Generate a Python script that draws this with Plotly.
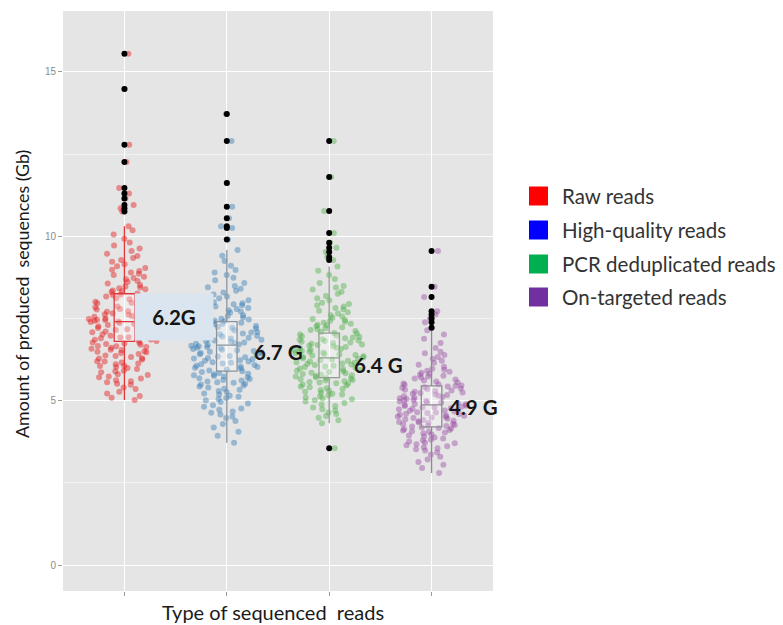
import plotly.graph_objects as go

# ---------------- data ----------------
categories = ["Raw reads", "High-quality reads", "PCR deduplicated reads", "On-targeted reads"]

raw_vals = [5.02, 5.09, 5.14, 5.22, 5.27, 5.35, 5.40, 5.48,
            5.51, 5.56, 5.59, 5.62, 5.67, 5.71, 5.73, 5.78, 5.80, 5.86, 5.89, 5.91, 5.96, 5.99,
            6.02, 6.05, 6.06, 6.11, 6.13, 6.16, 6.19, 6.20, 6.25, 6.28, 6.29, 6.33, 6.36, 6.37, 6.42, 6.45, 6.47, 6.49,
            6.50, 6.54, 6.55, 6.58, 6.61, 6.63, 6.65, 6.66, 6.70, 6.72, 6.74, 6.76, 6.77, 6.81, 6.83, 6.85, 6.86, 6.90, 6.92, 6.93, 6.97, 6.99,
            7.02, 7.03, 7.06, 7.08, 7.10, 7.11, 7.15, 7.17, 7.19, 7.21, 7.23, 7.26, 7.28, 7.30, 7.32, 7.34, 7.36, 7.39, 7.41, 7.43, 7.45, 7.46, 7.48, 7.50,
            7.52, 7.55, 7.57, 7.59, 7.61, 7.63, 7.66, 7.68, 7.70, 7.72, 7.75, 7.77, 7.79, 7.82, 7.84, 7.86, 7.89, 7.91, 7.93, 7.96, 7.98,
            8.01, 8.04, 8.08, 8.11, 8.14, 8.17, 8.21, 8.23, 8.26, 8.30, 8.33, 8.35, 8.39, 8.42, 8.44, 8.47,
            8.52, 8.56, 8.61, 8.64, 8.69, 8.73, 8.77, 8.82, 8.86, 8.90, 8.94, 8.98,
            9.03, 9.09, 9.15, 9.22, 9.28, 9.34, 9.40, 9.47,
            9.55, 9.63, 9.72, 9.81, 9.92, 10.05, 10.18, 10.30]
raw_outliers = [10.75, 10.85, 10.95, 11.15, 11.30, 11.47, 12.26, 12.78, 14.48, 15.55]

hq_vals = [3.72, 3.93,
           4.05, 4.18, 4.29, 4.38, 4.47,
           4.52, 4.58, 4.63, 4.67, 4.72, 4.76, 4.81, 4.86, 4.91, 4.96,
           5.01, 5.05, 5.08, 5.12, 5.15, 5.19, 5.22, 5.26, 5.29, 5.33, 5.36, 5.40, 5.43, 5.46, 5.49,
           5.51, 5.54, 5.56, 5.58, 5.61, 5.63, 5.66, 5.68, 5.70, 5.73, 5.75, 5.77, 5.80, 5.82, 5.84, 5.87, 5.89, 5.92, 5.95, 5.98,
           6.00, 6.02, 6.04, 6.06, 6.08, 6.11, 6.13, 6.15, 6.17, 6.19, 6.21, 6.23, 6.26, 6.28, 6.30, 6.32, 6.34, 6.36, 6.38, 6.41, 6.43, 6.45, 6.47, 6.49,
           6.51, 6.53, 6.55, 6.57, 6.59, 6.61, 6.63, 6.65, 6.67, 6.69, 6.71, 6.73, 6.75, 6.77, 6.79, 6.81, 6.83, 6.85, 6.87, 6.89, 6.91, 6.93, 6.95, 6.97, 6.99,
           7.02, 7.04, 7.07, 7.09, 7.12, 7.14, 7.17, 7.19, 7.22, 7.24, 7.27, 7.29, 7.32, 7.34, 7.37, 7.39, 7.42, 7.44, 7.47, 7.49,
           7.53, 7.57, 7.60, 7.64, 7.68, 7.71, 7.75, 7.79, 7.82, 7.86, 7.90, 7.93, 7.96, 7.99,
           8.05, 8.11, 8.17, 8.23, 8.29, 8.34, 8.40, 8.45, 8.49,
           8.58, 8.66, 8.74, 8.82, 8.90, 8.97,
           9.10, 9.25, 9.41, 9.58]
hq_outliers = [9.90, 10.25, 10.30, 10.55, 10.90, 11.62, 12.90, 13.72]

pcr_vals = [4.31, 4.40, 4.48,
            4.53, 4.59, 4.64, 4.70, 4.74, 4.79, 4.84, 4.88, 4.93, 4.97,
            5.01, 5.04, 5.07, 5.10, 5.13, 5.16, 5.19, 5.21, 5.24, 5.27, 5.30, 5.32, 5.35, 5.38, 5.41, 5.43, 5.46, 5.49,
            5.51, 5.53, 5.55, 5.57, 5.59, 5.61, 5.63, 5.65, 5.67, 5.69, 5.71, 5.73, 5.75, 5.77, 5.79, 5.81, 5.83, 5.85, 5.87, 5.89, 5.91, 5.93, 5.96, 5.98,
            6.00, 6.02, 6.04, 6.06, 6.08, 6.10, 6.12, 6.13, 6.15, 6.17, 6.19, 6.21, 6.23, 6.25, 6.27, 6.29, 6.31, 6.33, 6.35, 6.37, 6.39, 6.41, 6.42, 6.44, 6.46, 6.48, 6.49,
            6.51, 6.53, 6.55, 6.57, 6.59, 6.61, 6.63, 6.65, 6.67, 6.69, 6.71, 6.73, 6.75, 6.77, 6.79, 6.81, 6.83, 6.85, 6.87, 6.90, 6.92, 6.94, 6.96, 6.98,
            7.01, 7.04, 7.06, 7.09, 7.12, 7.15, 7.17, 7.20, 7.23, 7.26, 7.29, 7.31, 7.34, 7.37, 7.40, 7.43, 7.45, 7.48,
            7.52, 7.56, 7.60, 7.65, 7.69, 7.73, 7.78, 7.82, 7.86, 7.90, 7.94, 7.98,
            8.05, 8.11, 8.18, 8.25, 8.31, 8.38, 8.44, 8.49,
            8.58, 8.70, 8.82, 8.95, 9.08]
pcr_outliers = [3.55, 9.28, 9.37, 9.52, 9.65, 9.80, 10.10, 10.77, 11.80, 12.90]

ont_vals = [2.80, 2.95,
            3.05, 3.13, 3.21, 3.29, 3.36, 3.42, 3.48,
            3.52, 3.55, 3.58, 3.61, 3.64, 3.67, 3.70, 3.73, 3.76, 3.79, 3.82, 3.85, 3.88, 3.91, 3.94, 3.97,
            4.01, 4.03, 4.05, 4.07, 4.09, 4.11, 4.13, 4.15, 4.17, 4.19, 4.21, 4.23, 4.24, 4.26, 4.28, 4.30, 4.32, 4.34, 4.35, 4.37, 4.39, 4.41, 4.43, 4.45, 4.47, 4.49,
            4.50, 4.52, 4.54, 4.55, 4.57, 4.59, 4.60, 4.62, 4.64, 4.65, 4.67, 4.69, 4.70, 4.72, 4.74, 4.75, 4.77, 4.79, 4.80, 4.82, 4.84, 4.85, 4.87, 4.89, 4.90, 4.92, 4.94, 4.95, 4.97, 4.99,
            5.01, 5.03, 5.05, 5.07, 5.09, 5.11, 5.13, 5.15, 5.17, 5.19, 5.21, 5.23, 5.25, 5.27, 5.29, 5.31, 5.33, 5.35, 5.37, 5.39, 5.41, 5.43, 5.45, 5.46, 5.48, 5.49,
            5.52, 5.55, 5.58, 5.61, 5.64, 5.67, 5.70, 5.73, 5.76, 5.79, 5.82, 5.85, 5.88, 5.91, 5.94, 5.97,
            6.03, 6.09, 6.15, 6.21, 6.27, 6.33, 6.39, 6.44, 6.49,
            6.60, 6.75, 6.88, 7.01, 7.14]
ont_outliers = [7.22, 7.38, 7.50, 7.62, 7.72, 8.15, 8.46, 9.55]

# box statistics
box_lowerfence = [5.02, 3.72, 4.31, 2.80]
box_q1 = [6.80, 5.90, 5.70, 4.20]
box_median = [7.40, 6.69, 6.30, 4.87]
box_q3 = [8.25, 7.40, 7.05, 5.45]
box_upperfence = [10.30, 9.58, 9.08, 7.14]

value_labels = ["6.2G", "6.7 G", "6.4 G", "4.9 G"]
y_ticks = [0, 5, 10, 15]

# ---------------- styles ----------------
point_colors = ["#E41A1C", "#377EB8", "#4DAF4A", "#984EA3"]
box_line_colors = ["#E0393B", "#8A949E", "#8FA08F", "#8E8A92"]
legend_colors = ["#FF0000", "#0000FF", "#00B050", "#7030A0"]

group_vals = [raw_vals, hq_vals, pcr_vals, ont_vals]
group_out = [raw_outliers, hq_outliers, pcr_outliers, ont_outliers]

fig = go.Figure()

# jittered points (all observations, outliers included)
for i, cat in enumerate(categories):
    vals = group_vals[i] + group_out[i]
    fig.add_trace(go.Box(
        x=[cat] * len(vals), y=vals,
        boxpoints="all", jitter=1, pointpos=0, width=0.7,
        line=dict(width=0, color="rgba(0,0,0,0)"),
        fillcolor="rgba(0,0,0,0)",
        marker=dict(color=point_colors[i], opacity=0.45, size=6),
        showlegend=False, hoverinfo="skip",
    ))

# box plots
for i, cat in enumerate(categories):
    fig.add_trace(go.Box(
        x=[cat], q1=[box_q1[i]], median=[box_median[i]], q3=[box_q3[i]],
        lowerfence=[box_lowerfence[i]], upperfence=[box_upperfence[i]],
        boxpoints=False, width=0.2, whiskerwidth=0,
        line=dict(color=box_line_colors[i], width=1.3),
        fillcolor="rgba(255,255,255,0.3)",
        showlegend=False, hoverinfo="skip",
    ))

# outliers (black)
for i, cat in enumerate(categories):
    fig.add_trace(go.Scatter(
        x=[cat] * len(group_out[i]), y=group_out[i], mode="markers",
        marker=dict(color="black", size=6),
        showlegend=False, hoverinfo="skip",
    ))

# ---------------- layout ----------------
# the page body adds an 8px margin; positions below are in window pixels
OFF = 8
W, H = 783 - OFF, 625 - OFF
L, R, T, B = 63, 493, 11, 591

def px_x(p):
    return (p - L) / (R - L)

def px_y(p):
    return (B - p) / (B - T)

annotations = []
shapes = []

# value labels
label_pos = [(0.48, 7.55), (1.505, 6.48), (2.485, 6.08), (3.41, 4.81)]
for k, (txt, (lx, ly)) in enumerate(zip(value_labels, label_pos)):
    a = dict(x=lx, y=ly, xref="x", yref="y", text="<b>%s</b>" % txt, showarrow=False,
             font=dict(family="Lato, Carlito, sans-serif", size=20.5, color="#151515"),
             xanchor="center", yanchor="middle")
    if k == 0:
        a.update(bgcolor="#DAE5F0", width=76, height=44)
    annotations.append(a)

# axis titles
annotations.append(dict(x=px_x(22), y=px_y(294), xref="paper", yref="paper",
                        text="Amount of produced  sequences (Gb)", textangle=-90, showarrow=False,
                        font=dict(family="Lato, sans-serif", size=17.8, color="#1a1a1a"),
                        xanchor="center", yanchor="middle"))
annotations.append(dict(x=px_x(273), y=px_y(612), xref="paper", yref="paper",
                        text="Type of sequenced  reads", showarrow=False,
                        font=dict(family="Lato, sans-serif", size=20, color="#1a1a1a"),
                        xanchor="center", yanchor="middle"))

# legend (drawn manually, as in reference)
leg_rows = [196, 230, 264, 297]
for i, cat in enumerate(categories):
    cy = leg_rows[i]
    shapes.append(dict(type="rect", xref="paper", yref="paper",
                       x0=px_x(529), x1=px_x(548), y0=px_y(cy + 9.5), y1=px_y(cy - 9.5),
                       fillcolor=legend_colors[i], line=dict(width=0)))
    annotations.append(dict(x=px_x(560), y=px_y(cy), xref="paper", yref="paper",
                            text=cat, showarrow=False, xanchor="left", yanchor="middle",
                            font=dict(family="Lato, sans-serif", size=20.5, color="#333333")))

fig.update_layout(
    width=W, height=H,
    margin=dict(l=L - OFF, r=783 - R, t=T - OFF, b=625 - B),
    paper_bgcolor="white", plot_bgcolor="#E5E5E5",
    boxmode="overlay", showlegend=False,
    annotations=annotations, shapes=shapes,
    font=dict(family="Liberation Sans, Arial, sans-serif"),
)
fig.update_xaxes(
    type="category", categoryorder="array", categoryarray=categories,
    range=[-0.6, 3.6], showticklabels=False,
    ticks="outside", ticklen=4, tickcolor="#9a9a9a",
    showgrid=True, gridcolor="white", gridwidth=1.3, zeroline=False, showline=False,
)
fig.update_yaxes(
    range=[-0.79, 16.85], tickvals=y_ticks, ticktext=[str(v) for v in y_ticks],
    ticks="outside", ticklen=4, tickcolor="#9a9a9a",
    tickfont=dict(size=10, color="#8c8c8c"),
    showgrid=True, gridcolor="white", gridwidth=1.3, zeroline=False, showline=False,
    minor=dict(tickvals=[2.5, 7.5, 12.5], showgrid=True, gridcolor="#F2F2F2", gridwidth=0.7, ticks=""),
)

fig.write_html("out.html")
